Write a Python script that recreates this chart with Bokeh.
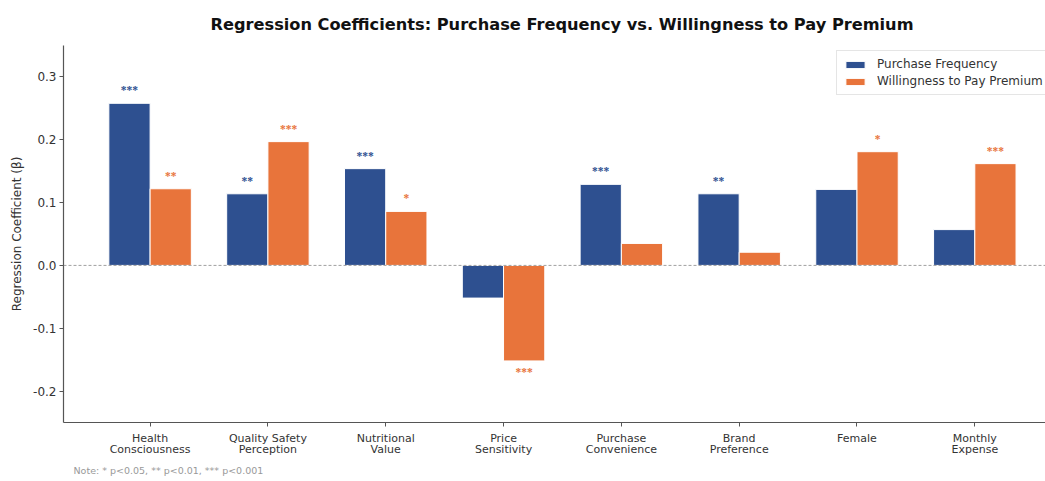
from bokeh.plotting import figure
from bokeh.models import (ColumnDataSource, Range1d, FixedTicker, PrintfTickFormatter,
                          Span, Legend, LegendItem, Title)
from bokeh.embed import file_html
from bokeh.resources import INLINE

categories = ["Health\nConsciousness", "Quality Safety\nPerception", "Nutritional\nValue",
              "Price\nSensitivity", "Purchase\nConvenience", "Brand\nPreference",
              "Female", "Monthly\nExpense"]
purchase_freq = [0.258, 0.114, 0.154, -0.052, 0.129, 0.114, 0.121, 0.057]
willingness = [0.122, 0.197, 0.086, -0.152, 0.035, 0.021, 0.181, 0.162]
sig_pf = ["***", "**", "***", "", "***", "**", "", ""]
sig_wtp = ["**", "***", "*", "***", "", "", "*", "***"]
y_ticks = [-0.2, -0.1, 0.0, 0.1, 0.2, 0.3]

BLUE = "#2E5090"
ORANGE = "#E8743B"
FONT = "DejaVu Sans"
bw = 0.35

idx = list(range(len(categories)))
src_pf = ColumnDataSource(dict(x=[i - bw / 2 for i in idx], top=purchase_freq))
src_wtp = ColumnDataSource(dict(x=[i + bw / 2 for i in idx], top=willingness))

p = figure(width=1045, height=481, output_backend="svg", toolbar_location=None,
           x_range=Range1d(-0.735, 7.6), y_range=Range1d(-0.25, 0.35),
           min_border_left=63, min_border_right=0, min_border_top=44, min_border_bottom=59)
p.outline_line_color = None
p.xgrid.visible = False
p.ygrid.visible = False

r1 = p.vbar(x="x", top="top", bottom=0, width=bw, source=src_pf,
            fill_color=BLUE, line_color="white", line_width=1)
r2 = p.vbar(x="x", top="top", bottom=0, width=bw, source=src_wtp,
            fill_color=ORANGE, line_color="white", line_width=1)

p.add_layout(Span(location=0, dimension="width", line_color="#888888",
                  line_width=0.8, line_dash="3 2"))

def stars(xs, vals, labels, color):
    yo = [-13 if v >= 0 else 11 for v in vals]
    src = ColumnDataSource(dict(x=xs, y=vals, t=labels, yo=yo))
    p.text(x="x", y="y", text="t", y_offset="yo", source=src, text_color=color,
           text_font=FONT, text_font_size="11.5px", text_font_style="bold",
           text_align="center", text_baseline="middle")

stars(src_pf.data["x"], purchase_freq, sig_pf, BLUE)
stars(src_wtp.data["x"], willingness, sig_wtp, ORANGE)

# axes
p.xaxis.ticker = FixedTicker(ticks=idx)
p.xaxis.major_label_overrides = {i: c for i, c in enumerate(categories)}
p.yaxis.ticker = FixedTicker(ticks=y_ticks)
p.yaxis.formatter = PrintfTickFormatter(format="%.1f")
p.xaxis.minor_tick_line_color = None
p.yaxis.minor_tick_line_color = None
for ax in (p.xaxis, p.yaxis):
    ax.axis_line_color = "#555555"
    ax.axis_line_width = 1.2
    ax.major_tick_line_color = "#555555"
    ax.major_tick_in = 0
    ax.major_tick_out = 4
    ax.major_label_text_font = FONT
    ax.major_label_text_color = "#333333"
p.xaxis.major_label_text_font_size = "11px"
p.xaxis.major_label_text_line_height = 0.85
p.xaxis.major_label_standoff = 5
p.yaxis.major_label_text_font_size = "12px"
p.yaxis.major_label_standoff = 3
p.yaxis.axis_label = "Regression Coefficient (β)"
p.yaxis.axis_label_text_font = FONT
p.yaxis.axis_label_text_font_size = "12px"
p.yaxis.axis_label_text_font_style = "normal"
p.yaxis.axis_label_text_color = "#333333"
p.yaxis.axis_label_standoff = 6

# legend
legend = Legend(items=[LegendItem(label="Purchase Frequency", renderers=[r1]),
                       LegendItem(label="Willingness to Pay Premium", renderers=[r2])],
                location=(773, 327), label_text_font=FONT, label_text_font_size="12px",
                label_text_color="#333333", glyph_width=24, glyph_height=9,
                border_line_color="#cccccc", background_fill_alpha=0.9,
                padding=6, spacing=3, margin=0, label_standoff=10, label_height=14)
p.add_layout(legend)

# note
note = Title(text="Note: * p<0.05, ** p<0.01, *** p<0.001", text_font=FONT,
             text_font_size="9.5px", text_color="#999999", text_font_style="normal",
             align="left", offset=10, standoff=9)
p.add_layout(note, "below")

# title
title = Title(text="Regression Coefficients: Purchase Frequency vs. Willingness to Pay Premium",
              text_font=FONT, text_font_size="16.2px", text_font_style="bold",
              text_color="#111111", align="left", offset=147, standoff=24)
p.add_layout(title, "above")

open("out.html", "w").write(file_html(p, INLINE))
